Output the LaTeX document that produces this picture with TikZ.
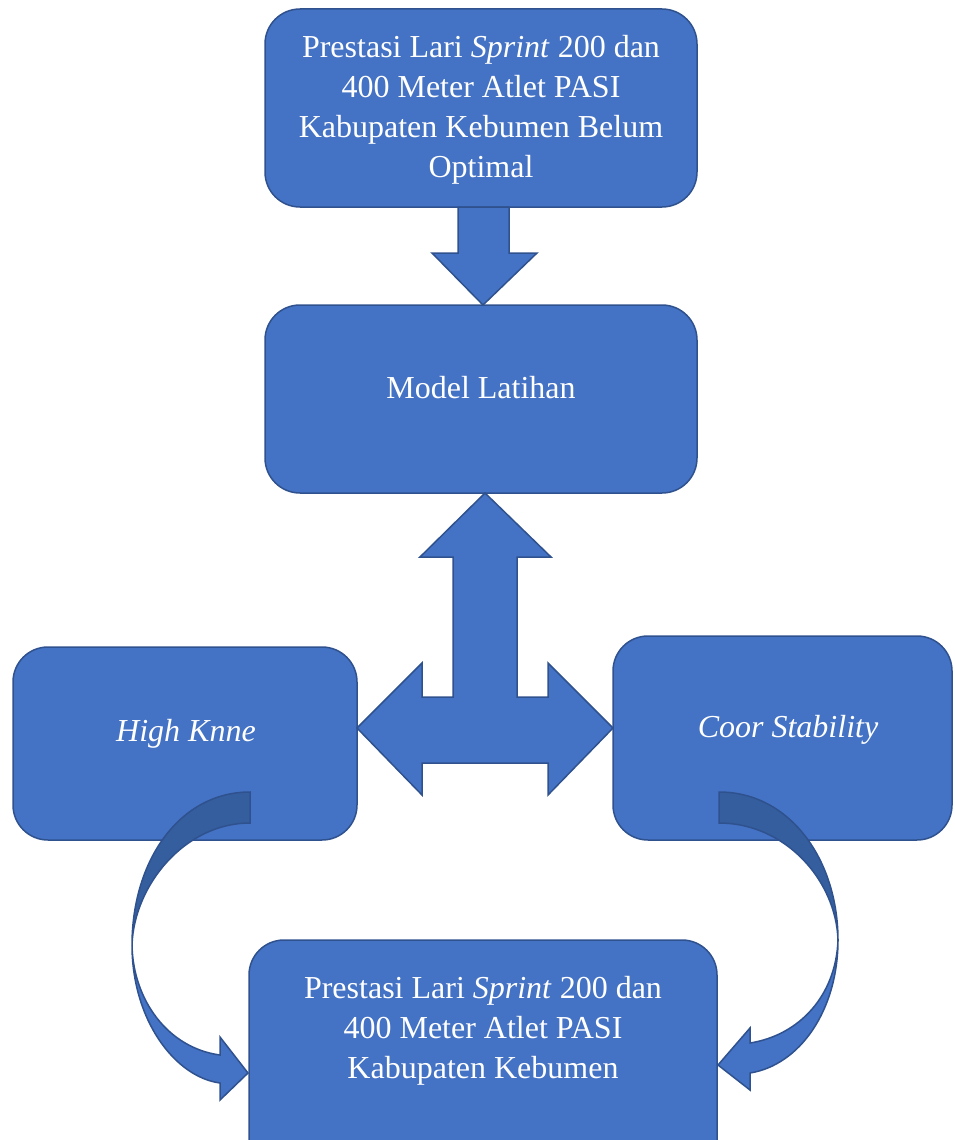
\documentclass[tikz,border=0pt]{standalone}
\usepackage{fontspec}
\setmainfont{Liberation Serif}
\definecolor{boxfill}{HTML}{4472C4}
\definecolor{boxline}{HTML}{2F528F}
\definecolor{backfill}{HTML}{355E9E}
\tikzset{
  box/.style={draw=boxline, fill=boxfill, line width=1.5pt, rounded corners=35pt, inner sep=0pt},
  txt/.style={text=white, font=\fontsize{32}{40}\selectfont, align=center, anchor=base, inner sep=0pt},
  blockarrow/.style={draw=boxline, fill=boxfill, line width=1.5pt, line join=miter},
  backpart/.style={draw=boxline, fill=backfill, line width=1.5pt, line join=miter}
}
\begin{document}
\begin{tikzpicture}[x=1pt,y=-1pt]
\useasboundingbox (0,0) rectangle (954,1140);
\clip (0,0) rectangle (954,1140);
% boxes
\node[box, minimum width=432pt, minimum height=198pt] (b1) at (481,108) {};
\node[box, minimum width=432pt, minimum height=188pt] (b2) at (481,399) {};
\node[box, minimum width=344pt, minimum height=193pt] (b3) at (185,743.5) {};
\node[box, minimum width=339pt, minimum height=204pt] (b4) at (782.5,738) {};
\node[box, minimum width=468pt, minimum height=240pt] (b5) at (483,1060) {};
% texts (base anchor = baseline of the last line)
\node[txt] (t1) at (481,177) {Prestasi Lari \textit{Sprint} 200 dan\\400 Meter Atlet PASI\\Kabupaten Kebumen Belum\\Optimal};
\node[txt] (t2) at (481,398) {Model Latihan};
\node[txt] (t3) at (186,741) {\textit{High Knne}};
\node[txt] (t4) at (788,737) {\textit{Coor Stability}};
\node[txt] (t5) at (483,1078) {Prestasi Lari \textit{Sprint} 200 dan\\400 Meter Atlet PASI\\Kabupaten Kebumen};
% down arrow
\draw[blockarrow] (458,207) -- (509,207) -- (509,253) -- (537,253) -- (483,305)
  -- (432,253) -- (458,253) -- cycle;
% up-left-right arrow
\draw[blockarrow] (485,493) -- (551,557) -- (517,557) -- (517,697) -- (548,697)
  -- (548,663) -- (613,728) -- (548,795) -- (548,763) -- (422,763) -- (422,795)
  -- (357,728) -- (422,663) -- (422,697) -- (453,697) -- (453,557) -- (420,557) -- cycle;
% left curved arrow
\draw[backpart] (250,792) .. controls (180,792) and (132,860) .. (132,945)
  .. controls (134,885) and (185,823) .. (250,823) -- cycle;
\draw[blockarrow] (132,945) .. controls (132,1020) and (175,1077) .. (220,1083)
  -- (220,1100) -- (248,1073) -- (220,1037) -- (220,1055)
  .. controls (168,1048) and (133,1000) .. (132,945) -- cycle;
% right curved arrow
\draw[backpart] (719,792) .. controls (790,792) and (838,860) .. (838,940)
  .. controls (836,880) and (785,823) .. (719,823) -- cycle;
\draw[blockarrow] (838,940) .. controls (838,1010) and (800,1065) .. (750,1073)
  -- (750,1090) -- (718,1065) -- (750,1028) -- (750,1043)
  .. controls (800,1035) and (836,995) .. (838,940) -- cycle;
\end{tikzpicture}
\end{document}
